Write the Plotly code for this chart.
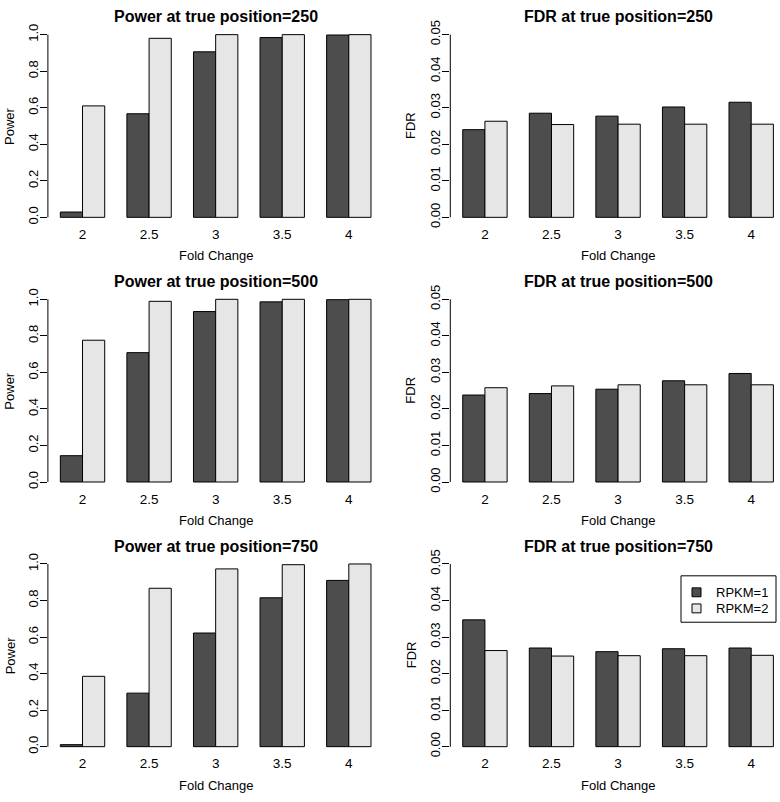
import plotly.graph_objects as go

fold_change = ["2", "2.5", "3", "3.5", "4"]
series_names = ["RPKM=1", "RPKM=2"]

power_250_r1 = [0.029, 0.567, 0.906, 0.984, 0.998]
power_250_r2 = [0.610, 0.980, 1.000, 1.000, 1.000]
power_500_r1 = [0.144, 0.708, 0.933, 0.986, 0.998]
power_500_r2 = [0.776, 0.989, 1.000, 1.000, 1.000]
power_750_r1 = [0.011, 0.293, 0.622, 0.815, 0.910]
power_750_r2 = [0.385, 0.867, 0.973, 0.996, 1.000]

fdr_250_r1 = [0.0240, 0.0285, 0.0277, 0.0302, 0.0315]
fdr_250_r2 = [0.0263, 0.0254, 0.0255, 0.0255, 0.0255]
fdr_500_r1 = [0.0238, 0.0242, 0.0254, 0.0277, 0.0297]
fdr_500_r2 = [0.0258, 0.0263, 0.0266, 0.0266, 0.0266]
fdr_750_r1 = [0.0347, 0.0270, 0.0260, 0.0268, 0.0270]
fdr_750_r2 = [0.0263, 0.0248, 0.0249, 0.0249, 0.0250]

positions = ["250", "500", "750"]
power_ticks = [0.0, 0.2, 0.4, 0.6, 0.8, 1.0]
fdr_ticks = [0.00, 0.01, 0.02, 0.03, 0.04, 0.05]

W, H = 780, 802
FONT = "Liberation Sans, Arial, Helvetica, sans-serif"
DARK = "#4D4D4D"
LIGHT = "#E6E6E6"
SERIES_COLORS = [DARK, LIGHT]

n = len(fold_change)
x_dark = [1.5 + 3 * i for i in range(n)]
x_light = [2.5 + 3 * i for i in range(n)]
x_centers = [2.0 + 3 * i for i in range(n)]

fig = go.Figure()

panels = [
    ("Power", power_250_r1, power_250_r2, 0),
    ("FDR", fdr_250_r1, fdr_250_r2, 0),
    ("Power", power_500_r1, power_500_r2, 1),
    ("FDR", fdr_500_r1, fdr_500_r2, 1),
    ("Power", power_750_r1, power_750_r2, 2),
    ("FDR", fdr_750_r1, fdr_750_r2, 2),
]

def px_x(p):
    return p / W

def px_y(p):
    return 1 - p / H

unit = 22.19
annotations = []
shapes = []
layout = {}
for k, (kind, r1, r2, row) in enumerate(panels):
    idx = k + 1
    xa = "x" if idx == 1 else f"x{idx}"
    ya = "y" if idx == 1 else f"y{idx}"
    fig.add_trace(go.Bar(x=x_dark, y=r1, width=1, name=series_names[0],
                         marker=dict(color=DARK, line=dict(color="black", width=1)),
                         xaxis=xa, yaxis=ya, showlegend=False))
    fig.add_trace(go.Bar(x=x_light, y=r2, width=1, name=series_names[1],
                         marker=dict(color=LIGHT, line=dict(color="black", width=1)),
                         xaxis=xa, yaxis=ya, showlegend=False))
    zero = 213 + 268 * row
    top = zero - 185
    ymax = 1.0 if kind == "Power" else 0.05
    ext = 0.04 * ymax
    ytop_px = top - 0.04 * 185
    ybot_px = zero + 0.04 * 185
    if kind == "Power":
        xl = 47.9
        xr = xl + 15.12 * unit
        xrange = [0.44, 15.56]
        cx = (xl + xr) / 2
        ticks = power_ticks
        ticktext = [f"{t:.1f}" for t in ticks]
        ylab_x = 10
    else:
        xl = 450.3
        xr = 780
        xrange = [0.44, 0.44 + (xr - xl) / unit]
        cx = (xl + xl + 15.12 * unit) / 2
        ticks = fdr_ticks
        ticktext = [f"{t:.2f}" for t in ticks]
        ylab_x = 411
    key = "" if idx == 1 else str(idx)
    layout["xaxis" + key] = dict(domain=[px_x(xl), min(1, px_x(xr))], range=xrange,
                                 anchor=ya, showline=False, showgrid=False, zeroline=False,
                                 tickmode="array", tickvals=x_centers, ticktext=fold_change,
                                 ticks="", tickfont=dict(family=FONT, size=13.5, color="black"),
                                 fixedrange=True)
    layout["yaxis" + key] = dict(domain=[px_y(ybot_px), px_y(ytop_px)], range=[-ext, ymax + ext],
                                 anchor=xa, showline=False, showgrid=False, zeroline=False,
                                 tickmode="array", tickvals=ticks, ticktext=ticktext,
                                 ticks="outside", ticklen=7, tickwidth=1, tickcolor="black",
                                 tickangle=-90, ticklabelstandoff=-3,
                                 tickfont=dict(family=FONT, size=13, color="black"),
                                 fixedrange=True)
    shapes.append(dict(type="line", xref=f"{xa} domain", yref=ya, x0=0, x1=0, y0=0, y1=ymax,
                       line=dict(color="black", width=1)))
    annotations.append(dict(text=f"<b>{kind} at true position={positions[row]}</b>",
                            x=px_x(cx), y=px_y(10 + 268 * row), xref="paper", yref="paper",
                            xanchor="center", yanchor="middle", showarrow=False,
                            font=dict(family=FONT, size=16, color="black")))
    annotations.append(dict(text="Fold Change", x=px_x(cx), y=px_y(252 + 268 * row),
                            xref="paper", yref="paper", xanchor="center", yanchor="middle",
                            showarrow=False, font=dict(family=FONT, size=13, color="black")))
    annotations.append(dict(text=kind, x=px_x(ylab_x), y=px_y((zero + top) / 2),
                            xref="paper", yref="paper", xanchor="center", yanchor="middle",
                            textangle=-90, showarrow=False,
                            font=dict(family=FONT, size=13, color="black")))

# legend box (drawn like R's legend())
shapes.append(dict(type="rect", xref="paper", yref="paper",
                   x0=px_x(681), x1=px_x(776), y0=px_y(576), y1=px_y(623),
                   line=dict(color="black", width=1), fillcolor="white", layer="above"))
for i, (name, col) in enumerate(zip(series_names, SERIES_COLORS)):
    cy = 592.7 + 16.3 * i
    shapes.append(dict(type="rect", xref="paper", yref="paper",
                       x0=px_x(692), x1=px_x(701), y0=px_y(cy - 4.5), y1=px_y(cy + 4.5),
                       line=dict(color="black", width=1), fillcolor=col, layer="above"))
    annotations.append(dict(text=name, x=px_x(714), y=px_y(cy), xref="paper", yref="paper",
                            xanchor="left", yanchor="middle", showarrow=False,
                            font=dict(family=FONT, size=13, color="black")))

fig.update_layout(
    width=W, height=H,
    margin=dict(l=0, r=0, t=0, b=0),
    paper_bgcolor="white", plot_bgcolor="white",
    barmode="overlay",
    font=dict(family=FONT, size=13, color="black"),
    annotations=annotations,
    shapes=shapes,
    showlegend=False,
    **layout,
)

fig.write_html(
    "out.html",
    config={"displayModeBar": False},
    post_script="document.body.style.margin='0';document.body.style.padding='0';"
                "document.body.style.overflow='hidden';"
                "document.documentElement.style.overflow='hidden';",
)
